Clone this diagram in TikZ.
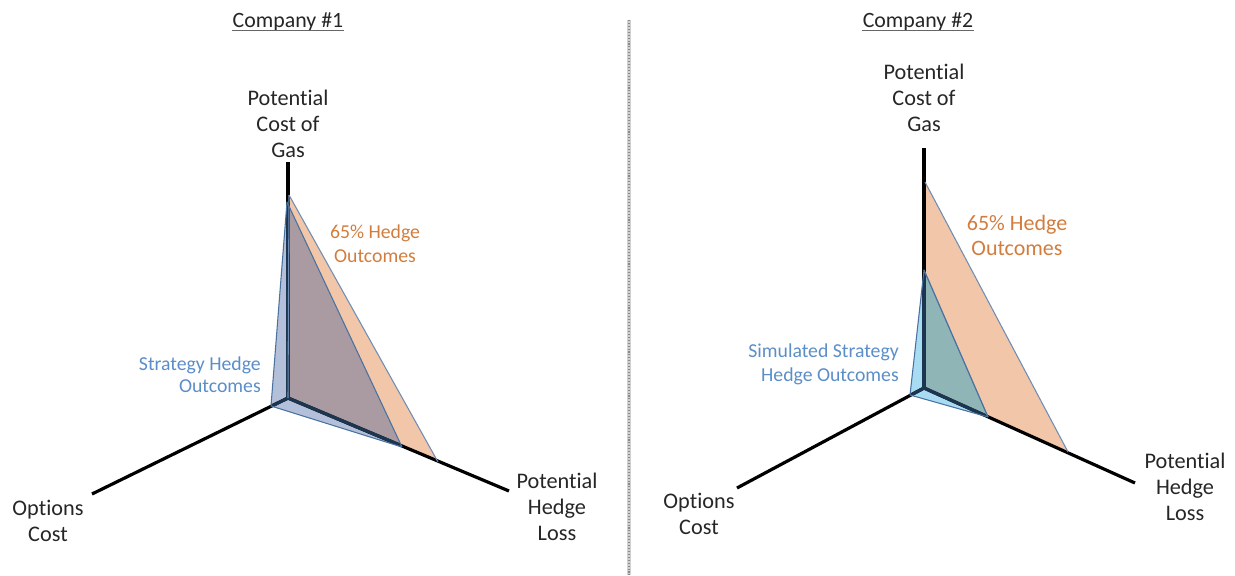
\documentclass[tikz,border=0pt]{standalone}
\usepackage{fontspec}
\setmainfont{Carlito}[Ligatures={NoCommon}]
\definecolor{orfill}{HTML}{F2C6A8}
\definecolor{bluefillA}{HTML}{B4C0DA}
\definecolor{overA}{HTML}{AA9AA2}
\definecolor{bluefillB}{HTML}{A8DCF2}
\definecolor{overB}{HTML}{8FB5B6}
\definecolor{edgeblue}{HTML}{6F8DB5}
\definecolor{edgedark}{HTML}{4A72A0}
\definecolor{axisnavy}{HTML}{1C3550}
\definecolor{ortext}{HTML}{D27D3E}
\definecolor{bltext}{HTML}{5B8EC8}
\definecolor{divlight}{HTML}{D0D0D0}
\definecolor{divdark}{HTML}{8A8A8A}
\tikzset{
  axisline/.style={line width=2.4pt, black},
  navyline/.style={line width=2.4pt, axisnavy},
  orangeedge/.style={draw=edgeblue, line width=0.8pt, line join=round},
  blueedge/.style={draw=edgedark, line width=0.8pt, line join=round},
  axislabel/.style={font=\fontsize{16.7}{19.3}\selectfont, align=center, inner sep=0pt, text=black!85},
  titlelabel/.style={font=\fontsize{16.4}{19}\selectfont, inner sep=0pt, anchor=base, text=black!85},
  underl/.style={draw=black!60, line width=0.9pt},
  orlabel/.style={text=ortext, inner sep=0pt},
  bllabel/.style={text=bltext, inner sep=0pt},
  dividerband/.style={draw=divlight, line width=2.4pt},
  dividerdots/.style={draw=divdark, line width=1.1pt, dash pattern=on 0.8pt off 1.4pt}
}
\begin{document}
\begin{tikzpicture}[x=0.75pt,y=-0.75pt]
\useasboundingbox (0,0) rectangle (1235,575);

% ---------------- Company #1 ----------------
\coordinate (O1) at (288,398);
\coordinate (T1) at (288,162);
\coordinate (L1) at (92,494);
\coordinate (R1) at (509,491);
\coordinate (OrTop1) at (289,195);
\coordinate (OrR1) at (438,462);
\coordinate (BlTop1) at (287,202);
\coordinate (BlL1) at (271,406);
\coordinate (BlR1) at (402,447);
\coordinate (OvTop1) at (288,204);

\fill[orfill] (OrTop1) -- (OrR1) -- (O1) -- cycle;
\fill[bluefillA] (BlTop1) -- (BlL1) -- (BlR1) -- cycle;
\fill[overA] (OvTop1) -- (BlR1) -- (O1) -- cycle;
\draw[axisline] (O1) -- (T1);
\draw[axisline] (O1) -- (L1);
\draw[axisline] (O1) -- (R1);
\begin{scope}
  \clip (BlTop1) -- (BlL1) -- (BlR1) -- cycle;
  \draw[navyline] (O1) -- (T1);
  \draw[navyline] (O1) -- (L1);
  \draw[navyline] (O1) -- (R1);
\end{scope}
\draw[orangeedge] (OrTop1) -- (OrR1);
\draw[orangeedge] (OrTop1) -- (O1);
\draw[blueedge] (BlTop1) -- (BlL1) -- (BlR1) -- cycle;

\node[titlelabel] (title1) at (288,27) {Company \#1};
\draw[underl] ([yshift=-2.6pt]title1.base west) -- ([yshift=-2.6pt]title1.base east);
\node[axislabel] (gas1) at (288,124) {Potential\\Cost of\\Gas};
\node[axislabel] (opt1) at (48,521) {Options\\Cost};
\node[axislabel] (loss1) at (557,507) {Potential\\Hedge\\Loss};
\node[orlabel, align=center, font=\fontsize{14.8}{18}\selectfont] (or1) at (375,244) {65\% Hedge\\Outcomes};
\node[bllabel, align=right, anchor=east, font=\fontsize{14.8}{16.8}\selectfont] (bl1) at (261,375) {Strategy Hedge\\Outcomes};

% ---------------- divider ----------------
\coordinate (D1) at (629,20);
\coordinate (D2) at (629,575);
\draw[dividerband] (D1) -- (D2);
\draw[dividerdots] (D1) -- (D2);

% ---------------- Company #2 ----------------
\coordinate (O2) at (924,388);
\coordinate (T2) at (924,148);
\coordinate (L2) at (737,488);
\coordinate (R2) at (1135,483);
\coordinate (OrTop2) at (925,182);
\coordinate (OrR2) at (1068,452);
\coordinate (BlTop2) at (924,270);
\coordinate (BlL2) at (910,395);
\coordinate (BlR2) at (988,417);

\fill[orfill] (OrTop2) -- (OrR2) -- (O2) -- cycle;
\fill[bluefillB] (BlTop2) -- (BlL2) -- (BlR2) -- cycle;
\fill[overB] (BlTop2) -- (BlR2) -- (O2) -- cycle;
\draw[axisline] (O2) -- (T2);
\draw[axisline] (O2) -- (L2);
\draw[axisline] (O2) -- (R2);
\begin{scope}
  \clip (BlTop2) -- (BlL2) -- (BlR2) -- cycle;
  \draw[navyline] (O2) -- (T2);
  \draw[navyline] (O2) -- (L2);
  \draw[navyline] (O2) -- (R2);
\end{scope}
\draw[orangeedge] (OrTop2) -- (OrR2);
\draw[orangeedge] (BlTop2) -- (BlR2);
\draw[blueedge] (BlTop2) -- (BlL2) -- (BlR2) -- cycle;

\node[titlelabel] (title2) at (918,27) {Company \#2};
\draw[underl] ([yshift=-2.6pt]title2.base west) -- ([yshift=-2.6pt]title2.base east);
\node[axislabel] (gas2) at (924,98) {Potential\\Cost of\\Gas};
\node[axislabel] (opt2) at (699,514) {Options\\Cost};
\node[axislabel] (loss2) at (1185,487) {Potential\\Hedge\\Loss};
\node[orlabel, align=center, font=\fontsize{16.5}{18.8}\selectfont] (or2) at (1017,235) {65\% Hedge\\Outcomes};
\node[bllabel, align=right, anchor=east, font=\fontsize{14.8}{18}\selectfont] (bl2) at (899,364) {Simulated Strategy\\Hedge Outcomes};
\end{tikzpicture}
\end{document}
